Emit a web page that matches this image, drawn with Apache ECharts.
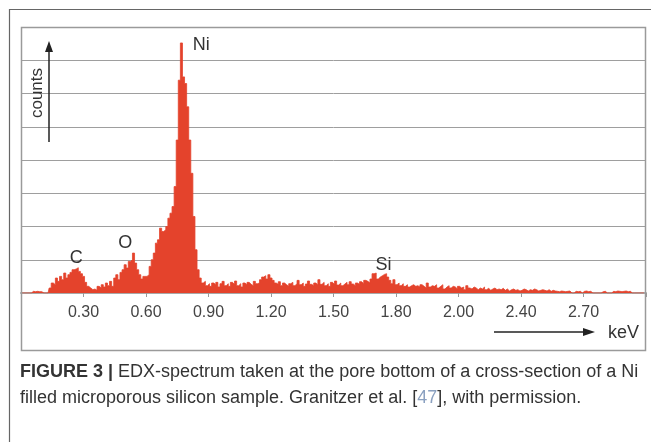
<!DOCTYPE html>
<html>
<head>
<meta charset="utf-8">
<script src="https://cdn.jsdelivr.net/npm/echarts@6/dist/echarts.min.js"></script>
<style>
html,body{margin:0;padding:0;background:#fff;}
#chart{width:651px;height:442px;}
</style>
</head>
<body>
<div id="chart"></div>
<script>
// Energy bins: 0.00 .. 2.99 keV, 0.01 keV wide
const binStart = 0.0;
const binWidth = 0.01;
// counts (arbitrary units, 1 unit = 1 gridline)
const counts = [
  0,0,0,0,0,0,0.05,0.04,0.05,0.04,
  0.04,0,0,0,0.15,0.3,0.25,0.45,0.35,0.5,
  0.4,0.6,0.45,0.55,0.62,0.7,0.72,0.76,0.65,0.58,
  0.5,0.32,0.2,0.15,0.1,0.12,0.08,0.2,0.15,0.25,
  0.18,0.3,0.22,0.35,0.2,0.45,0.55,0.4,0.62,0.7,
  0.85,0.75,0.95,1.0,1.2,0.9,0.7,0.55,0.42,0.5,
  0.5,0.55,0.8,1.0,1.2,1.5,1.6,1.95,1.85,1.9,
  2.0,2.25,2.4,2.6,3.2,4.6,6.4,7.52,6.5,6.3,
  5.6,4.6,3.6,2.3,1.3,0.7,0.45,0.3,0.35,0.22,
  0.28,0.2,0.3,0.25,0.32,0.18,0.28,0.35,0.22,0.28,
  0.2,0.32,0.26,0.36,0.22,0.28,0.18,0.3,0.25,0.32,
  0.26,0.22,0.35,0.28,0.3,0.4,0.48,0.52,0.42,0.55,
  0.45,0.38,0.3,0.26,0.34,0.22,0.3,0.25,0.2,0.28,
  0.32,0.22,0.28,0.38,0.25,0.3,0.2,0.27,0.36,0.26,
  0.22,0.3,0.25,0.4,0.26,0.32,0.22,0.28,0.2,0.32,
  0.26,0.36,0.24,0.3,0.22,0.27,0.32,0.25,0.34,0.27,
  0.22,0.3,0.26,0.34,0.28,0.38,0.35,0.3,0.42,0.58,
  0.6,0.42,0.48,0.52,0.56,0.58,0.48,0.38,0.28,0.4,
  0.25,0.3,0.22,0.28,0.2,0.25,0.18,0.22,0.25,0.2,
  0.22,0.18,0.25,0.2,0.15,0.3,0.18,0.22,0.2,0.25,
  0.15,0.2,0.25,0.12,0.18,0.22,0.15,0.2,0.18,0.12,
  0.2,0.15,0.18,0.1,0.22,0.15,0.12,0.18,0.15,0.1,
  0.15,0.12,0.18,0.1,0.14,0.08,0.12,0.15,0.1,0.12,
  0.1,0.14,0.08,0.12,0.06,0.1,0.12,0.08,0.1,0.06,
  0.08,0.12,0.1,0.06,0.1,0.08,0.12,0.1,0.06,0.08,
  0.1,0.08,0.06,0.1,0.05,0.08,0.06,0.05,0.04,0.06,
  0.05,0.04,0.05,0.06,0,0,0.05,0.04,0.05,0,
  0.05,0.06,0.04,0.05,0,0,0,0,0,0.04,
  0.05,0,0,0,0.05,0.04,0.06,0.05,0.04,0.05,
  0.06,0.04,0.05,0,0,0,0,0,0,0
];
// x tick labels as printed (ticks every 0.30 keV)
const tickLabels = ["0.30","0.60","0.90","1.20","1.50","1.80","2.00","2.40","2.70"];
// peak annotations
const peakNames = ["C","O","Ni","Si"];
const peakEnergy = [0.265, 0.50, 0.865, 1.74];
const peakHeight = [1.05, 1.5, 7.45, 0.84];

const RED = '#e4432c';
const seriesData = counts.map((c,i)=>[+(binStart + i*binWidth).toFixed(2), c]);

const chart = echarts.init(document.getElementById('chart'));
const option = {
  animation:false,
  backgroundColor:'#fff',
  grid:{left:21, right:5, top:27, bottom:149, containLabel:false},
  xAxis:{
    type:'value', min:0, max:3.0, interval:0.3,
    axisLine:{show:true, lineStyle:{color:'#a8a8a8', width:2}},
    axisTick:{show:true, length:4, lineStyle:{color:'#999'}},
    axisLabel:{
      margin:12, fontFamily:'Liberation Sans, Arial', fontSize:16, color:'#444',
      formatter:function(v){
        const k = Math.round(v/0.3) - 1;
        return (k>=0 && k<tickLabels.length) ? tickLabels[k] : '';
      }
    },
    splitLine:{show:false}
  },
  yAxis:{
    type:'value', min:0, max:8, interval:1,
    axisLine:{show:false}, axisTick:{show:false}, axisLabel:{show:false},
    splitLine:{show:true, lineStyle:{color:'#9e9e9e', width:1}}
  },
  series:[{
    type:'line', step:'middle', symbol:'none',
    data:seriesData,
    lineStyle:{color:RED, width:0.8},
    areaStyle:{color:RED, opacity:1},
    z:3,
    markPoint:{
      symbol:'circle', symbolSize:0,
      label:{show:true, position:'inside', fontFamily:'Liberation Sans, Arial', fontSize:18, color:'#333'},
      data: peakNames.map((n,i)=>({coord:[peakEnergy[i], peakHeight[i]], value:n, label:{formatter:n}}))
    }
  }],
  graphic:[
    {type:'rect', shape:{x:9.5,y:9.5,width:700,height:500}, style:{fill:'none', stroke:'#666', lineWidth:1.2}, silent:true},
    {type:'rect', shape:{x:21.5,y:27.5,width:624,height:323}, style:{fill:'none', stroke:'#9a9a9a', lineWidth:1.5}, silent:true, z:10},
    // counts arrow
    {type:'line', shape:{x1:49,y1:142,x2:49,y2:50}, style:{stroke:'#222', lineWidth:1.5}, z:10},
    {type:'polygon', shape:{points:[[49,41],[45,52],[53,52]]}, style:{fill:'#222'}, z:10},
    {type:'text', x:37, y:93, rotation:Math.PI/2, style:{text:'counts', font:'17px "Liberation Sans", Arial', fill:'#333', align:'center', verticalAlign:'middle'}, z:10},
    // keV arrow
    {type:'line', shape:{x1:494,y1:332,x2:585,y2:332}, style:{stroke:'#222', lineWidth:1.5}, z:10},
    {type:'polygon', shape:{points:[[595,332],[583,328],[583,336]]}, style:{fill:'#222'}, z:10},
    {type:'text', x:608, y:333, style:{text:'keV', font:'18px "Liberation Sans", Arial', fill:'#333', align:'left', verticalAlign:'middle'}, z:10},
    // caption
    {type:'text', x:20, y:372, style:{
      text:'{b|FIGURE 3 |} EDX-spectrum taken at the pore bottom of a cross-section of a Ni',
      font:'18px "Liberation Sans", Arial', fill:'#333', verticalAlign:'middle',
      rich:{b:{fontWeight:'bold', fontSize:18, fontFamily:'Liberation Sans', fill:'#333'}}
    }},
    {type:'text', x:20, y:398, style:{
      text:'filled microporous silicon sample. Granitzer et al. [{l|47}], with permission.',
      font:'18px "Liberation Sans", Arial', fill:'#333', verticalAlign:'middle',
      rich:{l:{fontSize:18, fontFamily:'Liberation Sans', fill:'#8aa0c0'}}
    }}
  ]
};
chart.setOption(option);
</script>
</body>
</html>
